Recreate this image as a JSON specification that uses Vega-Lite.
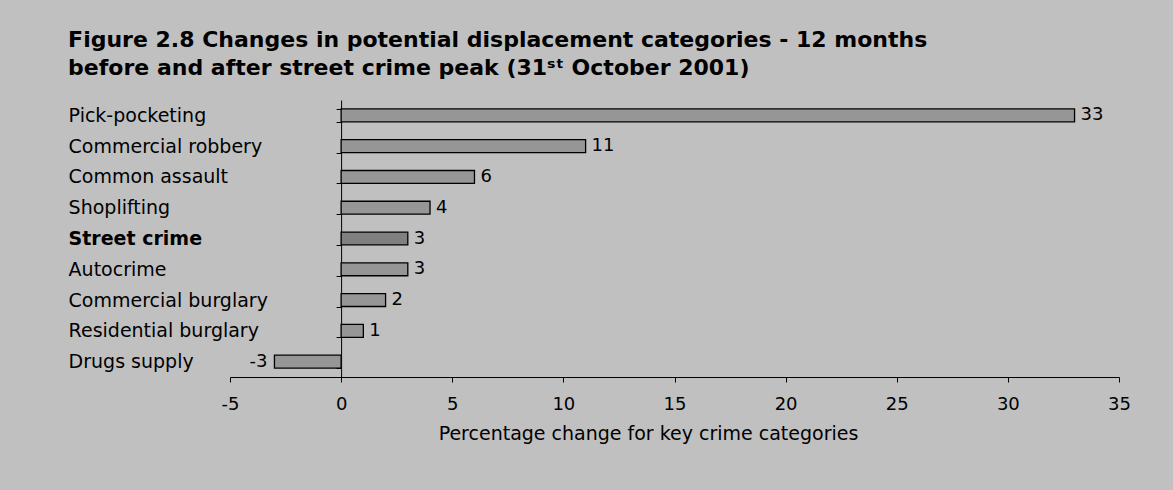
{
  "$schema": "https://vega.github.io/schema/vega-lite/v6.json",
  "width": 889,
  "height": 277,
  "padding": {"left": 68, "top": 29, "right": 60, "bottom": 60},
  "background": "#C0C0C0",
  "config": {
    "view": {"stroke": null},
    "font": "DejaVu Sans",
    "axis": {"grid": false, "domainColor": "#000000", "tickColor": "#000000", "labelColor": "#000000", "titleColor": "#000000"}
  },
  "title": {
    "text": ["Figure 2.8 Changes in potential displacement categories - 12 months", "before and after street crime peak (31ˢᵗ October 2001)"],
    "anchor": "start",
    "frame": "bounds",
    "font": "DejaVu Sans",
    "fontSize": 22,
    "fontWeight": "bold",
    "lineHeight": 28,
    "color": "#000000",
    "offset": 11
  },
  "data": {
    "values": [
      {"category": "Pick-pocketing", "change": 33},
      {"category": "Commercial robbery", "change": 11},
      {"category": "Common assault", "change": 6},
      {"category": "Shoplifting", "change": 4},
      {"category": "Street crime", "change": 3},
      {"category": "Autocrime", "change": 3},
      {"category": "Commercial burglary", "change": 2},
      {"category": "Residential burglary", "change": 1},
      {"category": "Drugs supply", "change": -3}
    ]
  },
  "encoding": {
    "y": {
      "field": "category",
      "type": "nominal",
      "sort": null,
      "scale": {"paddingInner": 0.58, "paddingOuter": 0.29},
      "axis": {
        "title": null,
        "offset": -111.1,
        "tickBand": "extent",
        "tickSize": 5,
        "labelAlign": "left",
        "labelPadding": 268,
        "labelFontSize": 19,
        "labelFont": "DejaVu Sans",
        "labelFontWeight": {"condition": {"test": "datum.value === 'Street crime'", "value": "bold"}, "value": "normal"},
        "labelLimit": 300
      }
    },
    "x": {
      "field": "change",
      "type": "quantitative",
      "scale": {"domain": [-5, 35], "nice": false, "zero": false},
      "axis": {
        "title": "Percentage change for key crime categories",
        "values": [-5, 0, 5, 10, 15, 20, 25, 30, 35],
        "labelExpr": "'' + datum.value",
        "tickSize": 5,
        "labelFontSize": 18,
        "labelBaseline": "middle",
        "labelPadding": 22,
        "labelFlush": false,
        "titleFontSize": 19,
        "titleFontWeight": "normal",
        "titleBaseline": "middle",
        "titleX": 418,
        "titleY": 56
      }
    }
  },
  "layer": [
    {
      "mark": {"type": "bar", "stroke": "#000000", "strokeWidth": 1.3},
      "encoding": {
        "color": {"condition": {"test": "datum.category === 'Street crime'", "value": "#808080"}, "value": "#969696"}
      }
    },
    {
      "transform": [{"filter": "datum.change >= 0"}],
      "mark": {"type": "text", "align": "left", "dx": 6, "fontSize": 18, "font": "DejaVu Sans", "color": "#000000"},
      "encoding": {"text": {"field": "change", "type": "nominal"}}
    },
    {
      "transform": [{"filter": "datum.change < 0"}],
      "mark": {"type": "text", "align": "right", "dx": -7, "fontSize": 18, "font": "DejaVu Sans", "color": "#000000"},
      "encoding": {"text": {"field": "change", "type": "nominal"}}
    }
  ]
}
